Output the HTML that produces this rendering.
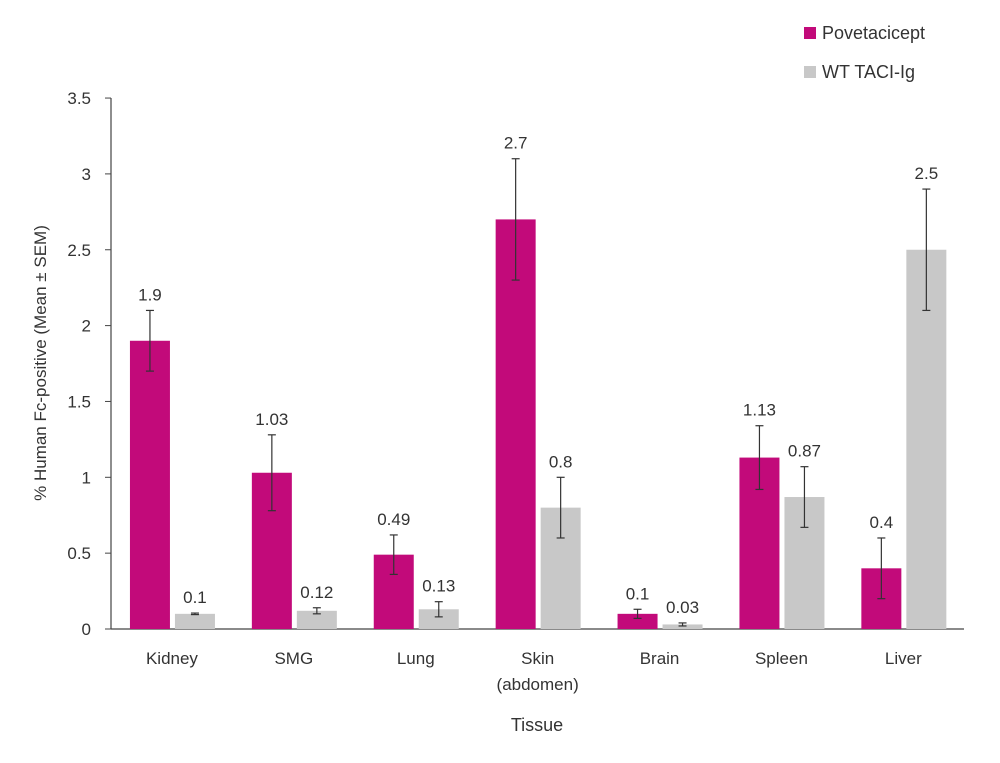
<!DOCTYPE html>
<html><head><style>body{margin:0;background:#fff}svg{display:block}text{font-family:"Liberation Sans",sans-serif;fill:#333}</style></head>
<body>
<svg width="1000" height="763" viewBox="0 0 1000 763">
<g id="c"></g>
</svg>
<script>
const s=document.getElementById('c');
const Y=v=>629-v*151.7;
let h='';
// axes
h+=`<line x1="111" y1="98" x2="111" y2="629" stroke="#444" stroke-width="1.2"/>`;
h+=`<line x1="111" y1="629" x2="964" y2="629" stroke="#444" stroke-width="1.2"/>`;
['0','0.5','1','1.5','2','2.5','3','3.5'].forEach((t,i)=>{const y=Y(i*0.5);
h+=`<line x1="105" y1="${y}" x2="111" y2="${y}" stroke="#444"/>`;
h+=`<text x="91" y="${y+6}" font-size="17" text-anchor="end">${t}</text>`;});
const d=[["Kidney",1.9,1.7,2.1,"1.9",0.1,0.095,0.105,"0.1"],
["SMG",1.03,0.78,1.28,"1.03",0.12,0.10,0.14,"0.12"],
["Lung",0.49,0.36,0.62,"0.49",0.13,0.08,0.18,"0.13"],
["Skin",2.7,2.3,3.1,"2.7",0.8,0.6,1.0,"0.8"],
["Brain",0.1,0.07,0.13,"0.1",0.03,0.02,0.04,"0.03"],
["Spleen",1.13,0.92,1.34,"1.13",0.87,0.67,1.07,"0.87"],
["Liver",0.4,0.2,0.6,"0.4",2.5,2.1,2.9,"2.5"]];
d.forEach((r,i)=>{const c=111+121.9*(i+0.5);
[[c-42,'#C20A7A',1],[c+3,'#C8C8C8',5]].forEach(([x,col,k])=>{
const v=r[k],lo=r[k+1],hi=r[k+2];
h+=`<rect x="${x}" y="${Y(v)}" width="40" height="${629-Y(v)}" fill="${col}"/>`;
const m=x+20;
h+=`<line x1="${m}" y1="${Y(lo)}" x2="${m}" y2="${Y(hi)}" stroke="#333" stroke-width="1.2"/>`;
h+=`<line x1="${m-4}" y1="${Y(lo)}" x2="${m+4}" y2="${Y(lo)}" stroke="#333" stroke-width="1.2"/>`;
h+=`<line x1="${m-4}" y1="${Y(hi)}" x2="${m+4}" y2="${Y(hi)}" stroke="#333" stroke-width="1.2"/>`;
h+=`<text x="${m}" y="${Y(hi)-10}" font-size="17" text-anchor="middle">${r[k+3]}</text>`;});
h+=`<text x="${c}" y="664" font-size="17" text-anchor="middle">${r[0]}</text>`;
if(r[0]=="Skin")h+=`<text x="${c}" y="690" font-size="17" text-anchor="middle">(abdomen)</text>`;
});
h+=`<text x="537" y="731" font-size="18" text-anchor="middle">Tissue</text>`;
h+=`<text transform="translate(46,363) rotate(-90)" font-size="17" text-anchor="middle">% Human Fc-positive (Mean ± SEM)</text>`;
h+=`<rect x="804" y="27" width="12" height="12" fill="#C20A7A"/><text x="822" y="39" font-size="18">Povetacicept</text>`;
h+=`<rect x="804" y="66" width="12" height="12" fill="#C8C8C8"/><text x="822" y="78" font-size="18">WT TACI-Ig</text>`;
s.innerHTML=h;
</script>
</body></html>
